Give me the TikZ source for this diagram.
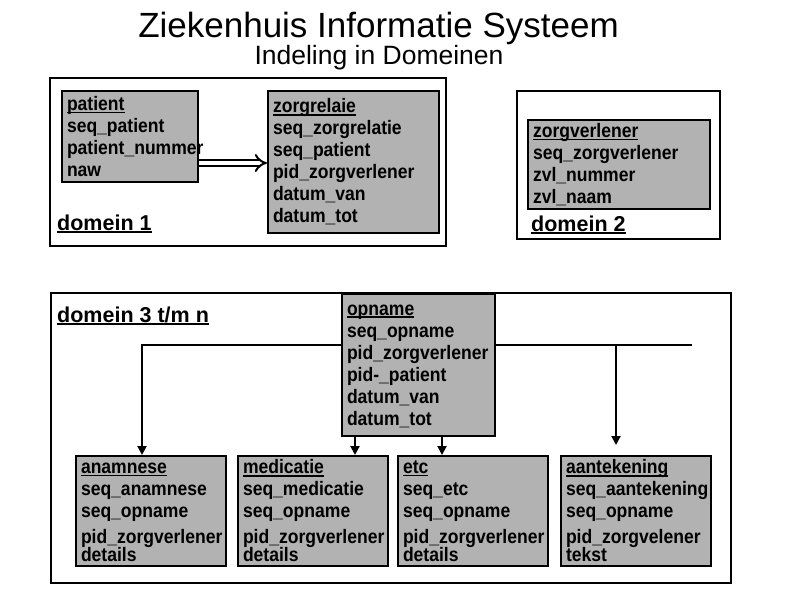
\documentclass[tikz,border=0pt]{standalone}
\usepackage{fontspec}
\setmainfont{Liberation Sans}
\newfontfamily\tabelfont[FakeStretch=0.9]{Liberation Sans}
\usetikzlibrary{arrows.meta}
\definecolor{tabelgrijs}{gray}{0.7}
\newcommand{\onder}[1]{\setbox0\hbox{#1}\rlap{\rule[-3pt]{\wd0}{1.6pt}}\box0}
\newcommand{\kop}[1]{\rule{0pt}{12.5pt}\onder{#1}}
\hyphenpenalty=10000

\begin{document}
\begin{tikzpicture}[x=1pt, y=-1pt,
    domein/.style={draw, line width=2pt, anchor=north west, inner sep=0pt},
    tabel/.style={draw, line width=2pt, fill=tabelgrijs, anchor=north west, inner xsep=5pt, inner ysep=0pt, align=left, font=\tabelfont\bfseries\fontsize{19.5}{22}\selectfont},
    domeinnaam/.style={anchor=base west, inner sep=0pt, font=\bfseries\fontsize{21.5}{24}\selectfont},
    pijl/.style={line width=2pt, -{Triangle[length=9pt,width=9pt]}},
    lijn/.style={line width=2pt}]
                \useasboundingbox (0,0) rectangle (789,600);

                % titel
                \node[anchor=base, font=\fontsize{35}{40}\selectfont] (titel) at (378.5,37) {Ziekenhuis Informatie Systeem};
                \node[anchor=base, font=\fontsize{26.5}{30}\selectfont] (ondertitel) at (379,64) {Indeling in Domeinen};

                % domein 1
                \node[domein, minimum width=396pt, minimum height=168pt] (dom1) at (49,77) {};
                \node[tabel, minimum width=136pt, minimum height=91pt, text width=126pt] (patient) at (61,90) {\kop{patient}\\ seq\_patient\\ patient\_nummer\\ naw};
                \node[tabel, minimum width=171pt, minimum height=142pt, text width=161pt] (zorgrelatie) at (267,90) {\kop{zorgrelaie}\\ seq\_zorgrelatie\\ seq\_patient\\ pid\_zorgverlener\\ datum\_van\\ datum\_tot};
                \node[domeinnaam] (naam1) at (57,230) {\onder{domein 1}};
                \coordinate (pz) at (0,163);
                \draw[line width=2pt, double, double distance=4pt, -{Implies}] (patient.east |- pz) -- (zorgrelatie.west |- pz);

                % domein 2
                \node[domein, minimum width=203pt, minimum height=148pt] (dom2) at (516,90) {};
                \node[tabel, minimum width=182pt, minimum height=89pt, text width=172pt] (zorgverlener) at (527,119) {\kop{zorgverlener}\\ seq\_zorgverlener\\ zvl\_nummer\\ zvl\_naam};
                \node[domeinnaam] (naam2) at (531,231) {\onder{domein 2}};

                % domein 3 t/m n
                \node[domein, minimum width=680pt, minimum height=290pt] (dom3) at (50,292) {};
                \node[domeinnaam] (naam3) at (57,322) {\onder{domein 3 t/m n}};
                \node[tabel, minimum width=153pt, minimum height=142pt, text width=143pt] (opname) at (341,293) {\kop{opname}\\ seq\_opname\\ pid\_zorgverlener\\ pid-\_patient\\ datum\_van\\ datum\_tot};

                \node[tabel, minimum width=150pt, minimum height=110pt, text width=140pt] (anamnese) at (75,455) {\kop{anamnese}\\[0pt] seq\_anamnese\\ seq\_opname\\[4pt] pid\_zorgverlener\\[-4pt] details};
                \node[tabel, minimum width=150pt, minimum height=110pt, text width=140pt] (medicatie) at (237,455) {\kop{medicatie}\\[0pt] seq\_medicatie\\ seq\_opname\\[4pt] pid\_zorgverlener\\[-4pt] details};
                \node[tabel, minimum width=150pt, minimum height=110pt, text width=140pt] (etc) at (397,455) {\kop{etc}\\[0pt] seq\_etc\\ seq\_opname\\[4pt] pid\_zorgverlener\\[-4pt] details};
                \node[tabel, minimum width=150pt, minimum height=110pt, text width=140pt] (aantekening) at (560,455) {\kop{aantekening}\\[0pt] seq\_aantekening\\ seq\_opname\\[4pt] pid\_zorgvelener\\[-4pt] tekst};

                % verbindingen
                \coordinate (hl) at (142,345);
                \coordinate (hr) at (692,345);
                \coordinate (ha) at (616,345);
                \draw[pijl] (opname.west |- hl) -- (hl) -- (hl |- anamnese.north);
                \draw[lijn] (opname.east |- hr) -- (hr);
                \draw[pijl, shorten >=10pt] (ha) -- (ha |- aantekening.north);
                \draw[pijl] (opname.south -| 355,0) -- (medicatie.north -| 355,0);
                \draw[pijl] (opname.south -| 442,0) -- (etc.north -| 442,0);
            \end{tikzpicture}
\end{document}
